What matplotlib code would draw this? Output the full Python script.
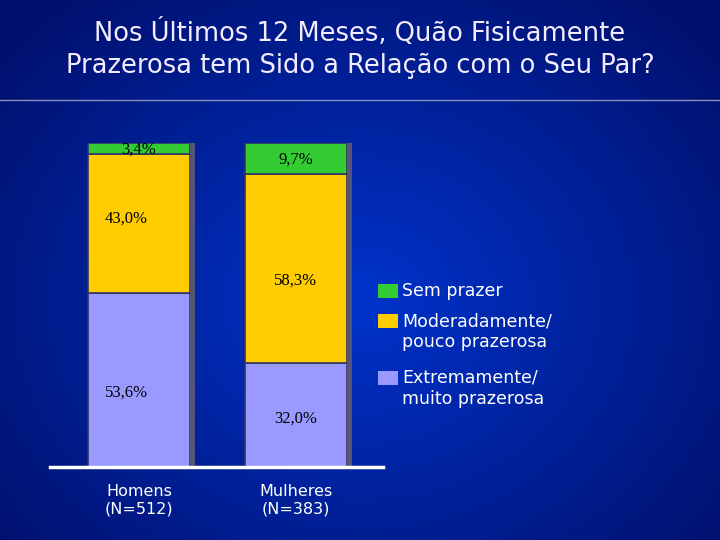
import numpy as np
import matplotlib
matplotlib.use("Agg")
import matplotlib.pyplot as plt
from matplotlib.patches import Rectangle

categories = ["Homens\n(N=512)", "Mulheres\n(N=383)"]
extremamente = [53.6, 32.0]
moderadamente = [43.0, 58.3]
sem_prazer = [3.4, 9.7]
series_names = ["Sem prazer", "Moderadamente/\npouco prazerosa", "Extremamente/\nmuito prazerosa"]
colors = ["#33cc33", "#ffcc00", "#9999ff"]

W, H = 720, 540
fig = plt.figure(figsize=(7.2, 5.4), dpi=100)

# background radial gradient
bg = fig.add_axes([0, 0, 1, 1])
yy, xx = np.mgrid[0:H, 0:W]
r = np.sqrt(((xx - 360) / 480) ** 2 + ((yy - 300) / 400) ** 2)
r = np.clip(r, 0, 1)
c0 = np.array([0.0, 0.2, 0.8]); c1 = np.array([0.0, 0.06, 0.42])
img = c0[None, None, :] * (1 - r[..., None]) + c1[None, None, :] * r[..., None]
bg.imshow(img, extent=[0, W, 0, H], aspect="auto")
bg.plot([0, W], [H - 100, H - 100], color="#8890c0", lw=1)
bg.set_xlim(0, W); bg.set_ylim(0, H); bg.axis("off")

fig.text(0.5, 1 - 49 / H, "Nos Últimos 12 Meses, Quão Fisicamente\nPrazerosa tem Sido a Relação com o Seu Par?",
         ha="center", va="center", color="#f4ecff", fontsize=18.5, family="DejaVu Sans", linespacing=1.3)

ax = fig.add_axes([50 / W, 1 - 467 / H, 333 / W, 324 / H])
ax.patch.set_alpha(0)
x = np.arange(len(categories))
w = 0.65
b1 = np.array(extremamente); b2 = b1 + np.array(moderadamente)
for vals, bottom, col in [(extremamente, 0, colors[2]), (moderadamente, b1, colors[1]), (sem_prazer, b2, colors[0])]:
    ax.bar(x, vals, w, bottom=bottom, color=col, edgecolor="#333366", linewidth=1.2)
    ax.bar(x + w / 2 + 0.015, vals, 0.03, bottom=bottom, color="#555577", linewidth=0)
ax.set_xlim(-0.567, 1.555); ax.set_ylim(0, 100)
for s in ["top", "right", "left"]:
    ax.spines[s].set_visible(False)
ax.spines["bottom"].set_color("white"); ax.spines["bottom"].set_linewidth(2.5)
ax.set_yticks([])
ax.set_xticks(x)
ax.set_xticklabels(categories, color="white", fontsize=11.5)
ax.tick_params(axis="x", length=0, pad=12)

lab_kw = dict(family="Liberation Serif", fontsize=12, color="black", ha="center", va="center")
ax.text(0, 98, "3,4%", **lab_kw)
ax.text(-0.08, 76.5, "43,0%", **lab_kw)
ax.text(-0.08, 23, "53,6%", **lab_kw)
ax.text(1, 95, "9,7%", **lab_kw)
ax.text(1, 57.5, "58,3%", **lab_kw)
ax.text(1, 15, "32,0%", **lab_kw)

leg_y = [291, 321, 378]
for yc, col, name in zip(leg_y, colors, series_names):
    fig.patches.append(Rectangle((378 / W, 1 - (yc + 7) / H), 20 / W, 14 / H,
                                 transform=fig.transFigure, facecolor=col, edgecolor="none"))
    fig.text(402 / W, 1 - (yc - 9) / H, name, color="white", fontsize=12.5, va="top", ha="left",
             linespacing=1.2)

fig.savefig("out.png", dpi=100)
